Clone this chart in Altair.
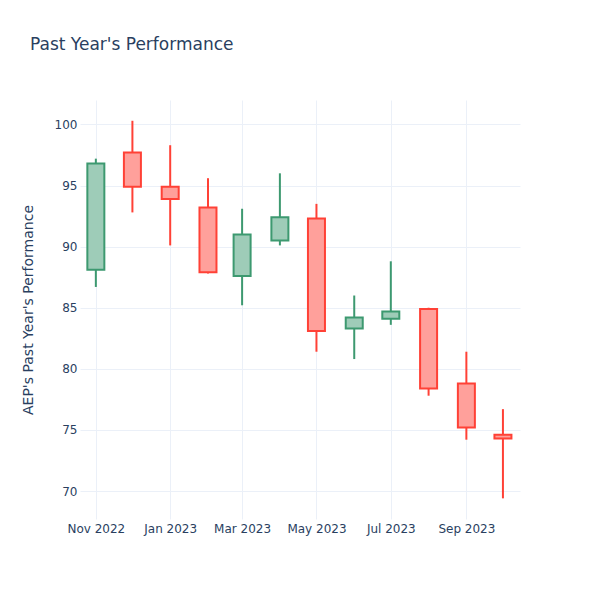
import altair as alt
import pandas as pd

dates = ["2022-11-01", "2022-12-01", "2023-01-01", "2023-02-01", "2023-03-01", "2023-04-01",
         "2023-05-01", "2023-06-01", "2023-07-01", "2023-08-01", "2023-09-01", "2023-10-01"]
opens = [88.1, 97.7, 94.9, 93.2, 87.6, 90.5, 92.3, 83.3, 84.1, 84.9, 78.8, 74.6]
highs = [97.2, 100.3, 98.3, 95.6, 93.1, 96.0, 93.5, 86.0, 88.8, 85.0, 81.4, 76.7]
lows = [86.7, 92.8, 90.1, 87.8, 85.2, 90.1, 81.4, 80.8, 83.6, 77.8, 74.2, 69.4]
closes = [96.8, 94.9, 93.9, 87.9, 91.0, 92.4, 83.1, 84.2, 84.7, 78.4, 75.2, 74.3]

df = pd.DataFrame({"date": dates, "open": opens, "high": highs, "low": lows, "close": closes})
df["dir"] = ["up" if c >= o else "down" for o, c in zip(opens, closes)]

FONT = "DejaVu Sans"
TXT = "#2a3f5f"
GRID = "#EBF0F8"

xscale = alt.Scale(type="utc", padding=0,
                   domain=[alt.DateTime(year=2022, month=10, date=19, utc=True),
                           alt.DateTime(year=2023, month=10, date=15, utc=True)])
tick_dates = [alt.DateTime(year=y, month=m, date=1, utc=True)
              for y, m in [(2022, 11), (2023, 1), (2023, 3), (2023, 5), (2023, 7), (2023, 9)]]

xenc = alt.X("date:T", scale=xscale,
             axis=alt.Axis(values=tick_dates, labelExpr="utcFormat(datum.value, '%b %Y')", title=None,
                           grid=True, gridColor=GRID, domain=False, ticks=False,
                           labelPadding=4, labelFontSize=12, labelColor=TXT, labelFont=FONT))

yscale = alt.Scale(domain=[67.71, 102.0], nice=False, zero=False)
yaxis = alt.Axis(values=[70, 75, 80, 85, 90, 95, 100], title="AEP's Past Year's Performance",
                 grid=True, gridColor=GRID, domain=False, ticks=False,
                 labelPadding=3, labelFontSize=12, labelColor=TXT, labelFont=FONT,
                 titleFontSize=14, titleColor=TXT, titleFont=FONT, titleFontWeight="normal",
                 titleX=-52, titleY=209.5, titleAlign="center", titleBaseline="middle", titleAngle=270)

stroke_scale = alt.Scale(domain=["up", "down"], range=["#3D9970", "#FF4136"])
fill_scale = alt.Scale(domain=["up", "down"], range=["#9ECCB8", "#FFA09B"])

base = alt.Chart(df)

wicks = base.mark_rule(strokeWidth=2).encode(
    x=xenc,
    y=alt.Y("low:Q", scale=yscale, axis=yaxis),
    y2="high:Q",
    color=alt.Color("dir:N", scale=stroke_scale, legend=None),
)

boxes = base.mark_bar(width=17, strokeWidth=2).encode(
    x=xenc,
    y=alt.Y("open:Q", scale=yscale, axis=yaxis),
    y2="close:Q",
    fill=alt.Fill("dir:N", scale=fill_scale, legend=None),
    stroke=alt.Stroke("dir:N", scale=stroke_scale, legend=None),
)

chart = alt.layer(wicks, boxes).resolve_scale(color="independent").properties(
    width=440, height=419,
    background="white",
    padding={"left": 72, "top": 92, "right": 72, "bottom": 73},
    autosize=alt.AutoSizeParams(type="none"),
    title=alt.TitleParams("Past Year's Performance", anchor="start", frame="group", dx=-50,
                          offset=46, fontSize=17, font=FONT, color=TXT, fontWeight="normal"),
).configure_view(strokeWidth=0, stroke="transparent")

chart.save("out.html", embed_options={"renderer": "svg", "actions": False})
